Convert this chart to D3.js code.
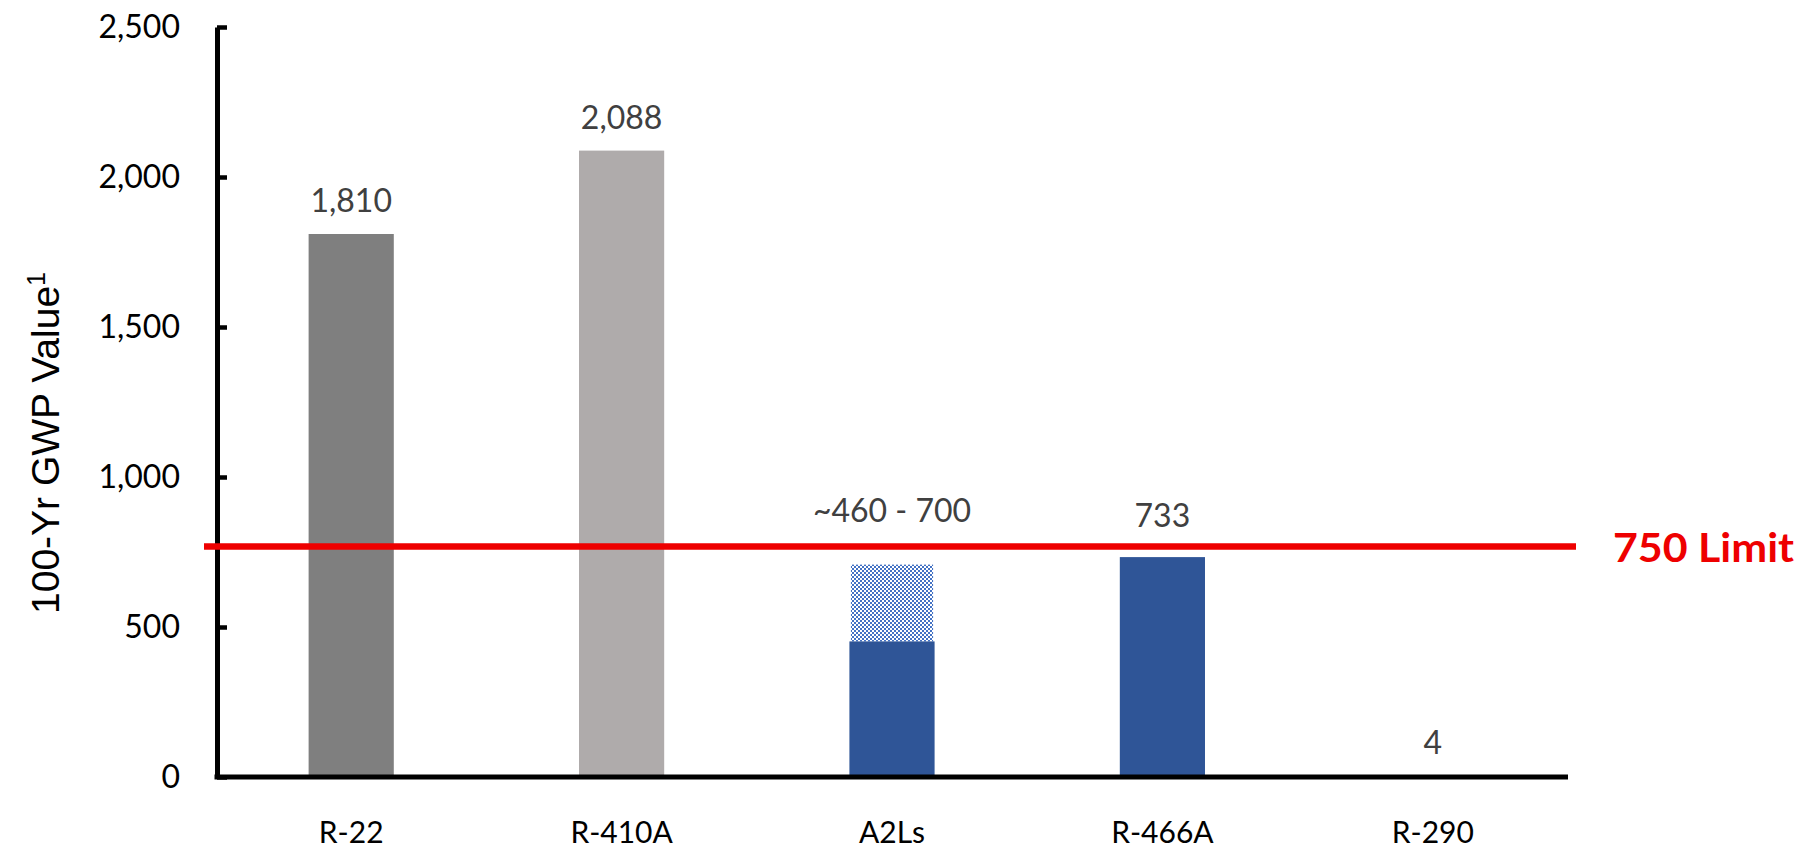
<!DOCTYPE html>
<html>
<head>
<meta charset="utf-8">
<script src="https://cdn.jsdelivr.net/npm/d3@7"></script>
<style>
  body { margin: 0; background: #fff; }
</style>
</head>
<body>
<div id="chart"></div>
<script>
// values
const categories = ["R-22", "R-410A", "A2Ls", "R-466A", "R-290"];
const gwpValues = [1810, 2088, 452, 733, 4];
const rangeUpper = [null, null, 708, null, null];   // dotted top of the A2Ls range
const valueLabels = ["1,810", "2,088", "~460 - 700", "733", "4"];
const yTicks = [0, 500, 1000, 1500, 2000, 2500];
const limitLevel = 768;        // where the red line sits
const limitLabel = "750 Limit";

const W = 1805, H = 850;
const margin = { top: 27, left: 217, right: 237, bottom: 73 };

const svg = d3.select("#chart")
    .append("svg")
    .attr("width", W)
    .attr("height", H);

const x = d3.scaleBand()
    .domain(categories)
    .range([margin.left - 1, W - margin.right])
    .paddingInner(0.685)
    .paddingOuter(0.3425);

const y = d3.scaleLinear()
    .domain([0, 2500])
    .range([H - margin.bottom, margin.top]);

const barColor = { "R-22": "#7f7f7f", "R-410A": "#afabab", "A2Ls": "#2f5597", "R-466A": "#2f5597", "R-290": "#2f5597" };

// checker pattern for the upper part of the A2Ls range
const pat = svg.append("defs").append("pattern")
    .attr("id", "checks")
    .attr("patternUnits", "userSpaceOnUse")
    .attr("width", 4).attr("height", 4);
pat.append("rect").attr("width", 4).attr("height", 4).attr("fill", "#fff");
pat.append("rect").attr("width", 2).attr("height", 2).attr("fill", "#4472c4");
pat.append("rect").attr("x", 2).attr("y", 2).attr("width", 2).attr("height", 2).attr("fill", "#4472c4");

const data = categories.map((c, i) => ({ cat: c, v: gwpValues[i], hi: rangeUpper[i], label: valueLabels[i] }));

// dotted range part
svg.selectAll("rect.range")
    .data(data.filter(d => d.hi != null))
    .enter()
    .append("rect")
    .attr("class", "range")
    .attr("x", d => x(d.cat) + 1.5)
    .attr("y", d => y(d.hi))
    .attr("width", x.bandwidth() - 3)
    .attr("height", d => y(d.v) - y(d.hi))
    .attr("fill", "url(#checks)");

svg.selectAll("rect.bar")
    .data(data)
    .enter()
    .append("rect")
    .attr("class", "bar")
    .attr("x", d => x(d.cat))
    .attr("y", d => y(d.v))
    .attr("width", x.bandwidth())
    .attr("height", d => y(0) - y(d.v))
    .attr("fill", d => barColor[d.cat]);

// value labels
svg.selectAll("text.valLabel")
    .data(data)
    .enter()
    .append("text")
    .attr("class", "valLabel")
    .attr("x", d => x(d.cat) + x.bandwidth() / 2)
    .attr("y", d => d.hi != null ? y(d.hi) - 43 : (d.cat === "R-466A" ? y(d.v) - 30 : y(d.v) - 22))
    .attr("text-anchor", "middle")
    .style("font-family", "Lato")
    .style("font-size", "32px")
    .style("fill", "#404040")
    .text(d => d.label);

// y axis
const yAxis = svg.append("g")
    .attr("transform", "translate(" + margin.left + ",0)")
    .call(d3.axisLeft(y)
        .tickValues(yTicks)
        .tickFormat(d3.format(","))
        .tickSizeInner(-10)
        .tickSizeOuter(0)
        .tickPadding(37));
yAxis.select(".domain").attr("stroke", "#000").attr("stroke-width", 5);
yAxis.selectAll(".tick line").attr("stroke", "#000").attr("stroke-width", 4.5);
yAxis.selectAll("text")
    .style("font-family", "Lato")
    .style("font-size", "32px")
    .style("fill", "#000");

// x axis
const xAxis = svg.append("g")
    .attr("transform", "translate(0," + y(0) + ")")
    .call(d3.axisBottom(x).tickSize(0).tickPadding(45));
xAxis.select(".domain")
    .attr("d", "M" + (margin.left - 2.5) + ",0H" + (W - margin.right))
    .attr("stroke", "#000").attr("stroke-width", 5);
xAxis.selectAll("text")
    .style("font-family", "Lato")
    .style("font-size", "30px")
    .style("fill", "#000");

// limit line
svg.append("line")
    .attr("x1", margin.left - 13)
    .attr("x2", W - margin.right + 8)
    .attr("y1", y(limitLevel))
    .attr("y2", y(limitLevel))
    .attr("stroke", "#ee0000")
    .attr("stroke-width", 6.5);

svg.append("text")
    .attr("x", W - margin.right + 45)
    .attr("y", y(limitLevel) + 15)
    .attr("textLength", 181)
    .attr("lengthAdjust", "spacingAndGlyphs")
    .style("font-family", "Lato")
    .style("font-weight", "bold")
    .style("font-size", "40px")
    .style("fill", "#ee0000")
    .text(limitLabel);

// y axis title
const title = svg.append("text")
    .attr("transform", "translate(59," + ((H - margin.bottom + margin.top) / 2 + 41) + ") rotate(-90)")
    .attr("text-anchor", "middle")
    .style("font-family", "Liberation Sans")
    .style("font-size", "39px")
    .style("fill", "#000");
title.append("tspan").text("100-Yr GWP Value");
title.append("tspan").attr("dy", -14).style("font-size", "25px").text("1");
</script>
</body>
</html>
